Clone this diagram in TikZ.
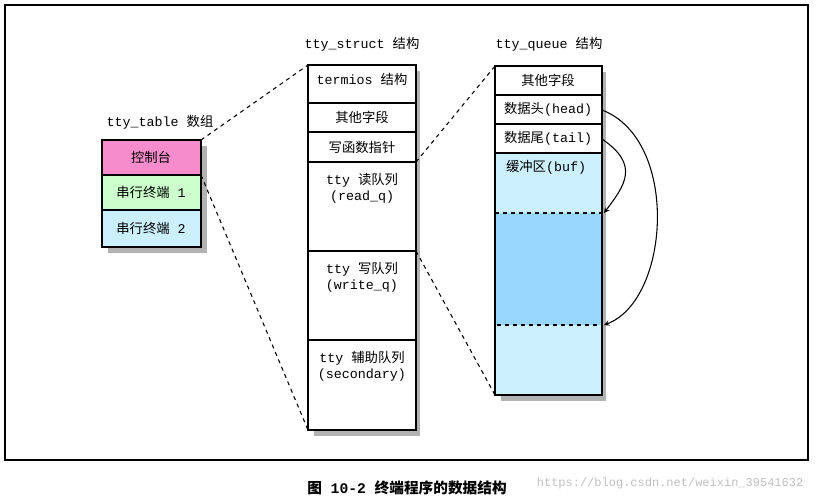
\documentclass[tikz,border=0pt]{standalone}
\usepackage{fontspec}
\setmainfont{Liberation Mono}
\newfontfamily\cjk{Noto Sans CJK SC}
\newcommand{\zh}[1]{{\cjk #1}}
\begin{document}
\begin{tikzpicture}[x=0.75pt,y=-0.75pt,
  cell/.style={draw,thick},
  shadow/.style={fill=black!30},
  lbl/.style={font=\fontsize{10}{12}\selectfont,inner sep=1pt},
  dline/.style={dashed,thick},
  ptr/.style={->,>=stealth,thick}]
\useasboundingbox (0,0) rectangle (816,501);
\draw[thick] (5,5) rectangle (808,460);
% tty_table
\fill[shadow] (108,146) rectangle (207,253);
\draw[cell,fill=magenta!45] (102,140) rectangle (201,175);
\draw[cell,fill=green!20] (102,175) rectangle (201,210);
\draw[cell,fill=cyan!20] (102,210) rectangle (201,247);
\node[lbl] at (160,122) {tty\_table \zh{数组}};
\node[lbl] at (151,157) {\zh{控制台}};
\node[lbl] at (151,192) {\zh{串行终端} 1};
\node[lbl] at (151,228) {\zh{串行终端} 2};
\coordinate (t1) at (201,140); \coordinate (t2) at (201,175);
% tty_struct
\fill[shadow] (414,71) rectangle (420,436);
\fill[shadow] (314,430) rectangle (420,436);
\foreach \a/\b in {65/103,103/132,132/162,162/251,251/340,340/430}
  \draw[cell,fill=white] (308,\a) rectangle (416,\b);
\node[lbl] at (362,44) {tty\_struct \zh{结构}};
\node[lbl] at (362,79) {termios \zh{结构}};
\node[lbl] at (362,117) {\zh{其他字段}};
\node[lbl] at (362,147) {\zh{写函数指针}};
\node[lbl,align=center] at (362,188) {tty \zh{读队列}\\(read\_q)};
\node[lbl,align=center] at (362,277) {tty \zh{写队列}\\(write\_q)};
\node[lbl,align=center] at (362,366) {tty \zh{辅助队列}\\(secondary)};
\coordinate (s0) at (308,65); \coordinate (s1) at (308,430);
\coordinate (s2) at (416,162); \coordinate (s3) at (416,251);
% tty_queue
\fill[shadow] (600,72) rectangle (606,401);
\fill[shadow] (501,395) rectangle (606,401);
\draw[cell,fill=white] (495,66) rectangle (602,95);
\draw[cell,fill=white] (495,95) rectangle (602,124);
\draw[cell,fill=white] (495,124) rectangle (602,153);
\draw[cell,fill=cyan!20] (495,153) rectangle (602,395);
\fill[blue!40!cyan!40] (496,213) rectangle (601,325);
\draw[dline] (495,213) -- (602,213) -- (602,325) -- (495,325);
\draw[thick] (495,153) -- (495,395);
\node[lbl] at (549,44) {tty\_queue \zh{结构}};
\node[lbl] at (548,80) {\zh{其他字段}};
\node[lbl] at (548,109) {\zh{数据头}(head)};
\node[lbl] at (548,138) {\zh{数据尾}(tail)};
\node[lbl] at (546,167) {\zh{缓冲区}(buf)};
\coordinate (q0) at (495,66); \coordinate (q1) at (495,395);
\coordinate (h) at (602,110); \coordinate (tl) at (602,139);
\coordinate (e1) at (604,213); \coordinate (e2) at (604,325);
\draw[dline] (t1) -- (s0); \draw[dline] (t2) -- (s1);
\draw[dline] (s2) -- (q0); \draw[dline] (s3) -- (q1);
\draw[ptr] (h) .. controls (680,140) and (670,300) .. (e2);
\draw[ptr] (tl) .. controls (640,165) and (625,185) .. (e1);
\node[font=\fontsize{11}{13}\selectfont\bfseries] at (407,488) {\zh{图} 10-2 \zh{终端程序的数据结构}};
\node[font=\fontsize{9}{11}\selectfont,text=black!25,anchor=east] at (808,483) {https://blog.csdn.net/weixin\_39541632};
\end{tikzpicture}
\end{document}
